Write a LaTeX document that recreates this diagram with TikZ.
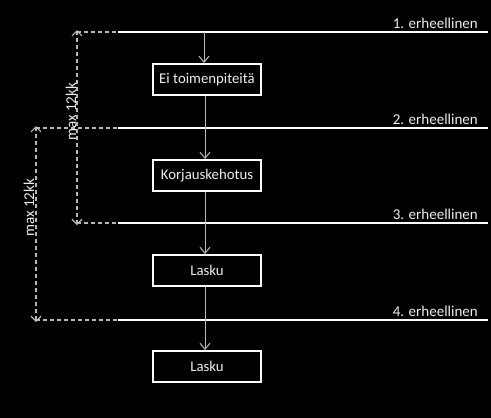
\documentclass[tikz,border=0pt]{standalone}
\usepackage{fontspec}
\setmainfont{Carlito}
\usetikzlibrary{arrows.meta,positioning}
\definecolor{errGrey}{RGB}{185,185,185}
\definecolor{errText}{RGB}{238,238,238}

\begin{document}
\begin{tikzpicture}[x=1pt,y=-1pt,
    box/.style={draw=white,line width=2pt,fill=black,minimum width=108pt,minimum height=31pt,
      inner sep=0pt,font=\fontsize{14.8}{16}\selectfont,text=errText},
    level/.style={draw=white,line width=1.3pt},
    reach/.style={draw=errGrey,line width=1.2pt,dash pattern=on 4pt off 3pt},
    span/.style={reach,{Straight Barb[length=5pt,width=10pt]}-{Straight Barb[length=5pt,width=10pt]}},
    flow/.style={draw=errGrey,line width=1pt,-{Straight Barb[length=6pt,width=10pt]}},
    tag/.style={font=\fontsize{15}{16}\selectfont,text=errText,anchor=south east,inner sep=1pt},
    note/.style={font=\fontsize{15}{16}\selectfont,text=errText,rotate=90,inner sep=0pt}
  ]
  \fill[black] (0,0) rectangle (491,418);
  \useasboundingbox (0,0) rectangle (491,418);

  % erheellinen levels
  \coordinate (l1) at (118,32);  \coordinate (r1) at (488,32);
  \coordinate (l2) at (118,128); \coordinate (r2) at (488,128);
  \coordinate (l3) at (118,223); \coordinate (r3) at (488,223);
  \coordinate (l4) at (118,320); \coordinate (r4) at (488,320);
  \draw[level] (l1) -- (r1);
  \draw[level] (l2) -- (r2);
  \draw[level] (l3) -- (r3);
  \draw[level] (l4) -- (r4);
  \node[tag] (t1) at (479,30)  {1. erheellinen};
  \node[tag] (t2) at (479,126) {2. erheellinen};
  \node[tag] (t3) at (479,221) {3. erheellinen};
  \node[tag] (t4) at (479,318) {4. erheellinen};

  % max 12kk spans
  \coordinate (d1) at (77,32);  \coordinate (d3) at (77,223);
  \coordinate (d2) at (36,128); \coordinate (d4) at (36,320);
  \draw[reach] (d1) -- (l1);
  \draw[reach] (d3) -- (l3);
  \draw[reach] (d2) -- (l2);
  \draw[reach] (d4) -- (l4);
  \draw[span] ([yshift=2pt]d1) -- ([yshift=-2pt]d3);
  \draw[span] ([yshift=2pt]d2) -- ([yshift=-2pt]d4);
  \node[note] (m1) at (71,112) {max 12kk};
  \node[note] (m2) at (29,208) {max 12kk};

  % steps
  \node[box] (e1) at (207,79.5)  {Ei toimenpiteitä};
  \node[box] (k1) at (207,175.5) {Korjauskehotus};
  \node[box] (a1) at (207,270.5) {Lasku};
  \node[box] (a2) at (207,366.5) {Lasku};
  \coordinate (s0) at (204,32);
  \draw[flow] (s0) -- (s0 |- e1.north);
  \draw[flow] ([xshift=-2pt]e1.south) -- ([xshift=-2pt]k1.north);
  \draw[flow] ([xshift=-2pt]k1.south) -- ([xshift=-2pt]a1.north);
  \draw[flow] ([xshift=-2pt]a1.south) -- ([xshift=-2pt]a2.north);
\end{tikzpicture}
\end{document}
